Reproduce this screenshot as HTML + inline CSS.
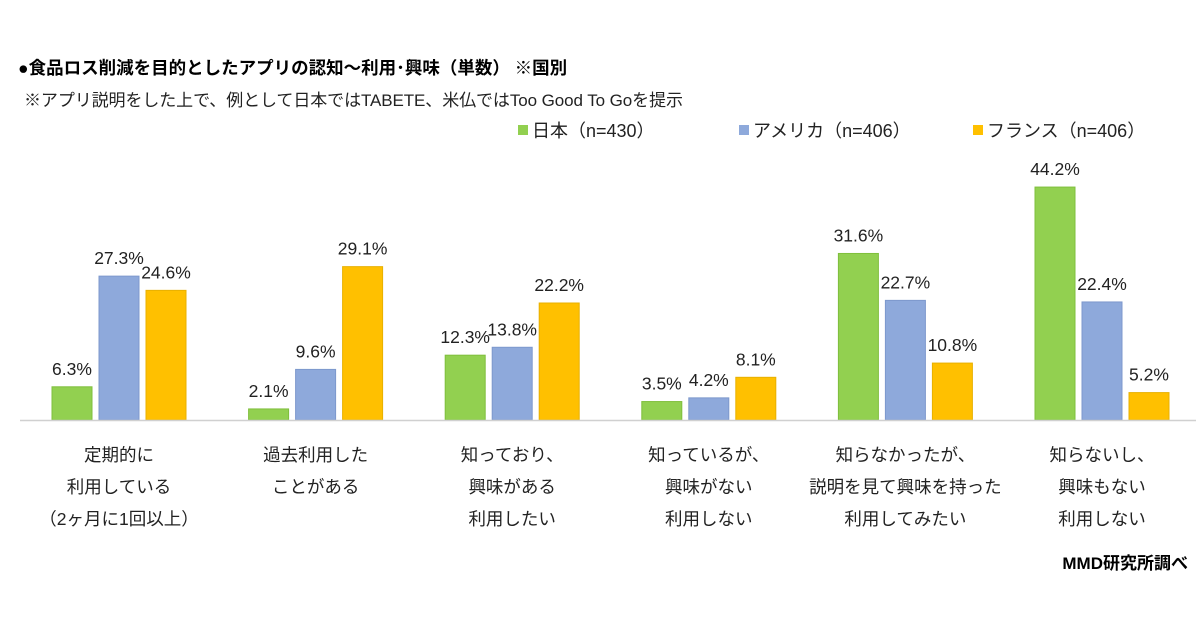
<!DOCTYPE html>
<html><head><meta charset="utf-8"><style>
body{margin:0;background:#fff}
svg{display:block;font-family:"Liberation Sans","Noto Sans CJK JP",sans-serif}
</style></head><body>
<svg id="c" width="1200" height="630">
<text x="18" y="74" font-size="17.5" font-weight="bold" fill="#000">●食品ロス削減を目的としたアプリの認知～利用･興味（単数） ※国別</text>
<text x="24" y="106" font-size="17" fill="#222" textLength="659">※アプリ説明をした上で、例として日本ではTABETE、米仏ではToo Good To Goを提示</text>
<g id="legend"></g>
<g id="bars"></g>
<line x1="20" x2="1196" y1="420.5" y2="420.5" stroke="#d0d0d0" stroke-width="1.5"/>
<g id="cats"></g>
<text x="1188" y="569" font-size="17" font-weight="bold" text-anchor="end">MMD研究所調べ</text>
</svg>
<script>
const categories=[["定期的に","利用している","（2ヶ月に1回以上）"],["過去利用した","ことがある"],["知っており、","興味がある","利用したい"],["知っているが、","興味がない","利用しない"],["知らなかったが、","説明を見て興味を持った","利用してみたい"],["知らないし、","興味もない","利用しない"]];
const japan=[6.3,2.1,12.3,3.5,31.6,44.2];
const usa=[27.3,9.6,13.8,4.2,22.7,22.4];
const france=[24.6,29.1,22.2,8.1,10.8,5.2];
const seriesNames=["日本（n=430）","アメリカ（n=406）","フランス（n=406）"];
const ns="http://www.w3.org/2000/svg";
const colors=["#92D050","#8EA9DB","#FFC000"];
const strokes=["#7fbf3c","#7d98cc","#e8b000"];
const series=[japan,usa,france];
const base=420, k=5.27;
const y=v=>base-v*k;
const gx=i=>52+i*196.6;
const bars=document.getElementById('bars');
series.forEach((s,si)=>{
  s.forEach((v,i)=>{
    const x=gx(i)+si*47;
    const r=document.createElementNS(ns,'rect');
    r.setAttribute('x',x);r.setAttribute('y',y(v));r.setAttribute('width',40);r.setAttribute('height',v*k);
    r.setAttribute('fill',colors[si]);r.setAttribute('stroke',strokes[si]);
    
    
    bars.appendChild(r);
    const t=document.createElementNS(ns,'text');
    t.setAttribute('x',x+20);t.setAttribute('y',y(v)-12);t.setAttribute('font-size','17.5');t.setAttribute('text-anchor','middle');t.setAttribute('fill','#222');
    t.textContent=v.toFixed(1)+'%';
    
    
    bars.appendChild(t);
  });
});
const cats=document.getElementById('cats');
categories.forEach((lines,i)=>{
  lines.forEach((l,j)=>{
    const t=document.createElementNS(ns,'text');
    t.setAttribute('x',gx(i)+67);t.setAttribute('y',461+j*32);t.setAttribute('font-size','17.5');t.setAttribute('text-anchor','middle');t.setAttribute('fill','#222');
    t.textContent=l;
    
    
    cats.appendChild(t);
  });
});
const lg=document.getElementById('legend');
const lx=[518,739,973];
seriesNames.forEach((n,i)=>{
  const r=document.createElementNS(ns,'rect');
  r.setAttribute('x',lx[i]);r.setAttribute('y',125);r.setAttribute('width',10);r.setAttribute('height',10);r.setAttribute('fill',colors[i]);
  
  
  lg.appendChild(r);
  const t=document.createElementNS(ns,'text');
  t.setAttribute('x',lx[i]+14);t.setAttribute('y',137);t.setAttribute('font-size','18');t.setAttribute('fill','#222');
  t.textContent=n;
  
  
  lg.appendChild(t);
});
</script>
</body></html>
